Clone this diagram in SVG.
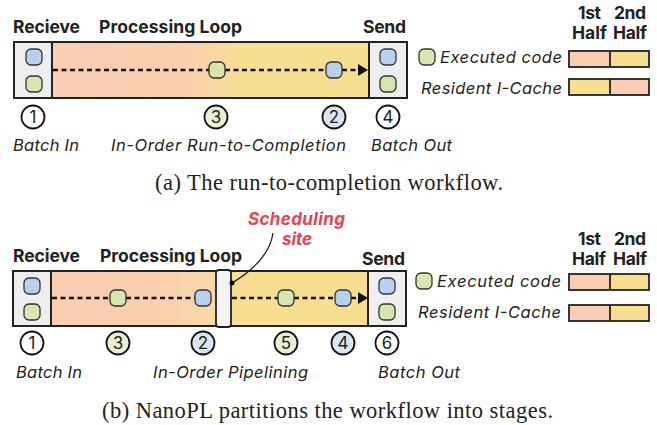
<svg xmlns="http://www.w3.org/2000/svg" width="657" height="425" viewBox="0 0 657 425">
<defs>
<linearGradient id="gA" x1="52" y1="0" x2="369" y2="0" gradientUnits="userSpaceOnUse">
<stop offset="0" stop-color="#F9CDB2"/><stop offset="0.43" stop-color="#F9D0AE"/><stop offset="0.6" stop-color="#F8DE93"/><stop offset="1" stop-color="#F8DE91"/>
</linearGradient>
<linearGradient id="gB" x1="51" y1="0" x2="216" y2="0" gradientUnits="userSpaceOnUse">
<stop offset="0" stop-color="#F9CDB2"/><stop offset="0.6" stop-color="#F9CFAF"/><stop offset="1" stop-color="#FAD8A6"/>
</linearGradient>
<style>
.box{fill:none;stroke:#222;stroke-width:2}
.gray{fill:#EEEEEE;stroke:#222;stroke-width:2}
.chipB{fill:#B7D0EC;stroke:#333;stroke-width:1.3}
.chipG{fill:#D7E6AF;stroke:#333;stroke-width:1.3}
.dash{fill:none;stroke:#111;stroke-width:2.5;stroke-dasharray:5 3.5}
.hdr{font-family:Inter,"Liberation Sans",sans-serif;font-weight:700;font-size:17.5px;fill:#222}
.lbl{font-family:Inter,"Liberation Sans",sans-serif;font-style:italic;font-size:16.5px;fill:#222}
.num{font-family:Inter,"Liberation Sans",sans-serif;font-size:17px;fill:#222;text-anchor:middle}
.cw{fill:#fff;stroke:#111;stroke-width:1.8}
.cg{fill:#E8F0D2;stroke:#111;stroke-width:1.8}
.cb{fill:#D8E5F3;stroke:#111;stroke-width:1.8}
.cap{font-family:"Liberation Serif",serif;font-size:22.5px;fill:#222}
.sal{fill:#F9CDB2}
.yel{fill:#F8DE91}
.red{font-family:Inter,"Liberation Sans",sans-serif;font-weight:700;font-style:italic;font-size:17px;fill:#E8434F}
</style>
</defs>

<!-- ===== Panel (a) ===== -->
<g id="a-headers">
<text class="hdr" x="13" y="33" textLength="67">Recieve</text>
<text class="hdr" x="99" y="33" textLength="143">Processing Loop</text>
<text class="hdr" x="363" y="33" textLength="43">Send</text>
</g>
<g id="a-loop">
<rect x="52" y="42" width="317" height="56" fill="url(#gA)"/>
</g>
<g id="a-receive">
<rect class="gray" x="14" y="42" width="38" height="56"/>
<rect class="chipB" x="26" y="49" width="16" height="16" rx="5"/>
<rect class="chipG" x="26" y="76" width="16" height="16" rx="5"/>
</g>
<g id="a-send">
<rect class="gray" x="369" y="42" width="38" height="56"/>
<rect class="chipB" x="380" y="49" width="16" height="16" rx="5"/>
<rect class="chipG" x="380" y="76" width="16" height="16" rx="5"/>
</g>
<rect class="box" x="14" y="42" width="393" height="56"/>
<g id="a-connectors">
<line class="dash" x1="53" y1="70" x2="209" y2="70"/>
<line class="dash" x1="225" y1="70" x2="326" y2="70"/>
<line class="dash" x1="342" y1="70" x2="359" y2="70"/>
<path d="M358,64 L368,70 L358,76 Z" fill="#111"/>
</g>
<g id="a-chips">
<rect class="chipG" x="209" y="62" width="16" height="16" rx="5"/>
<rect class="chipB" x="326" y="62" width="16" height="16" rx="5"/>
</g>
<g id="a-steps">
<circle class="cw" cx="33" cy="117" r="11.5"/><text class="num" x="33" y="123">1</text>
<circle class="cg" cx="216" cy="117" r="11.5"/><text class="num" x="216" y="123">3</text>
<circle class="cb" cx="334" cy="117" r="11.5"/><text class="num" x="334" y="123">2</text>
<circle class="cw" cx="388" cy="117" r="11.5"/><text class="num" x="388" y="123">4</text>
</g>
<g id="a-labels">
<text class="lbl" x="13" y="151" textLength="66">Batch In</text>
<text class="lbl" x="111" y="151" textLength="235">In-Order Run-to-Completion</text>
<text class="lbl" x="371" y="151" textLength="81">Batch Out</text>
</g>
<g id="a-legend">
<text class="hdr" x="578" y="19" textLength="23">1st</text>
<text class="hdr" x="572" y="39" textLength="35">Half</text>
<text class="hdr" x="614" y="19" textLength="32">2nd</text>
<text class="hdr" x="613" y="39" textLength="34">Half</text>
<rect class="chipG" x="419" y="49" width="16" height="16" rx="5"/>
<text class="lbl" x="440" y="63" textLength="122">Executed code</text>
<text class="lbl" x="421" y="94" textLength="141">Resident I-Cache</text>
<rect class="sal" x="569" y="51" width="41" height="16"/>
<rect class="yel" x="610" y="51" width="39" height="16"/>
<rect class="box" x="569" y="51" width="80" height="16" style="stroke-width:1.8"/>
<line x1="610" y1="51" x2="610" y2="67" stroke="#222" stroke-width="1.8"/>
<rect class="yel" x="569" y="79" width="41" height="16"/>
<rect class="sal" x="610" y="79" width="39" height="16"/>
<rect class="box" x="569" y="79" width="80" height="16" style="stroke-width:1.8"/>
<line x1="610" y1="79" x2="610" y2="95" stroke="#222" stroke-width="1.8"/>
</g>
<text class="cap" x="155" y="190" textLength="348">(a) The run-to-completion workflow.</text>

<!-- ===== Panel (b) ===== -->
<g id="b-headers">
<text class="hdr" x="13" y="262" textLength="67">Recieve</text>
<text class="hdr" x="100" y="262" textLength="142">Processing Loop</text>
<text class="hdr" x="362" y="265" textLength="43">Send</text>
</g>
<g id="b-loop">
<rect x="51" y="271" width="165" height="55" fill="url(#gB)"/>
<rect x="231" y="271" width="137" height="55" fill="#F8DE91"/>
</g>
<g id="b-receive">
<rect class="gray" x="13" y="271" width="38" height="55"/>
<rect class="chipB" x="24" y="278" width="16" height="16" rx="5"/>
<rect class="chipG" x="24" y="304" width="16" height="16" rx="5"/>
</g>
<g id="b-send">
<rect class="gray" x="368" y="271" width="38" height="55"/>
<rect class="chipB" x="379" y="278" width="16" height="16" rx="5"/>
<rect class="chipG" x="379" y="304" width="16" height="16" rx="5"/>
</g>
<rect class="box" x="13" y="271" width="393" height="55"/>
<g id="b-sched">
<rect x="216" y="270" width="15" height="57" rx="3" fill="#F3F3F3" stroke="#222" stroke-width="1.8"/>
</g>
<g id="b-connectors">
<line class="dash" x1="52" y1="298" x2="110" y2="298"/>
<line class="dash" x1="126" y1="298" x2="195" y2="298"/>
<line class="dash" x1="232" y1="298" x2="278" y2="298"/>
<line class="dash" x1="294" y1="298" x2="335" y2="298"/>
<line class="dash" x1="351" y1="298" x2="358" y2="298"/>
<path d="M358,292 L368,298 L358,304 Z" fill="#111"/>
<path d="M232,283 C250,272 270,255 273,233" fill="none" stroke="#111" stroke-width="1.2"/>
<circle cx="232" cy="283" r="2.5" fill="#111"/>
</g>
<g id="b-chips">
<rect class="chipG" x="110" y="290" width="16" height="16" rx="5"/>
<rect class="chipB" x="195" y="290" width="16" height="16" rx="5"/>
<rect class="chipG" x="278" y="290" width="16" height="16" rx="5"/>
<rect class="chipB" x="335" y="290" width="16" height="16" rx="5"/>
</g>
<g id="b-sched-label">
<text class="red" x="248" y="225" textLength="97">Scheduling</text>
<text class="red" x="282" y="245" textLength="30">site</text>
</g>
<g id="b-steps">
<circle class="cw" cx="32" cy="343" r="11.5"/><text class="num" x="32" y="349">1</text>
<circle class="cg" cx="118" cy="343" r="11.5"/><text class="num" x="118" y="349">3</text>
<circle class="cb" cx="203" cy="343" r="11.5"/><text class="num" x="203" y="349">2</text>
<circle class="cg" cx="286" cy="343" r="11.5"/><text class="num" x="286" y="349">5</text>
<circle class="cb" cx="343" cy="343" r="11.5"/><text class="num" x="343" y="349">4</text>
<circle class="cw" cx="387" cy="343" r="11.5"/><text class="num" x="387" y="349">6</text>
</g>
<g id="b-labels">
<text class="lbl" x="16" y="378" textLength="66">Batch In</text>
<text class="lbl" x="153" y="378" textLength="155">In-Order Pipelining</text>
<text class="lbl" x="378" y="378" textLength="82">Batch Out</text>
</g>
<g id="b-legend">
<text class="hdr" x="578" y="245" textLength="23">1st</text>
<text class="hdr" x="572" y="265" textLength="34">Half</text>
<text class="hdr" x="614" y="245" textLength="32">2nd</text>
<text class="hdr" x="613" y="265" textLength="34">Half</text>
<rect class="chipG" x="416" y="273" width="16" height="16" rx="5"/>
<text class="lbl" x="437" y="287" textLength="124">Executed code</text>
<text class="lbl" x="418" y="318" textLength="143">Resident I-Cache</text>
<rect class="sal" x="569" y="274" width="41" height="16"/>
<rect class="yel" x="610" y="274" width="39" height="16"/>
<rect class="box" x="569" y="274" width="80" height="16" style="stroke-width:1.8"/>
<line x1="610" y1="274" x2="610" y2="290" stroke="#222" stroke-width="1.8"/>
<rect class="sal" x="569" y="305" width="41" height="16"/>
<rect class="yel" x="610" y="305" width="39" height="16"/>
<rect class="box" x="569" y="305" width="80" height="16" style="stroke-width:1.8"/>
<line x1="610" y1="305" x2="610" y2="321" stroke="#222" stroke-width="1.8"/>
</g>
<text class="cap" x="102" y="418" textLength="451">(b) NanoPL partitions the workflow into stages.</text>
</svg>
